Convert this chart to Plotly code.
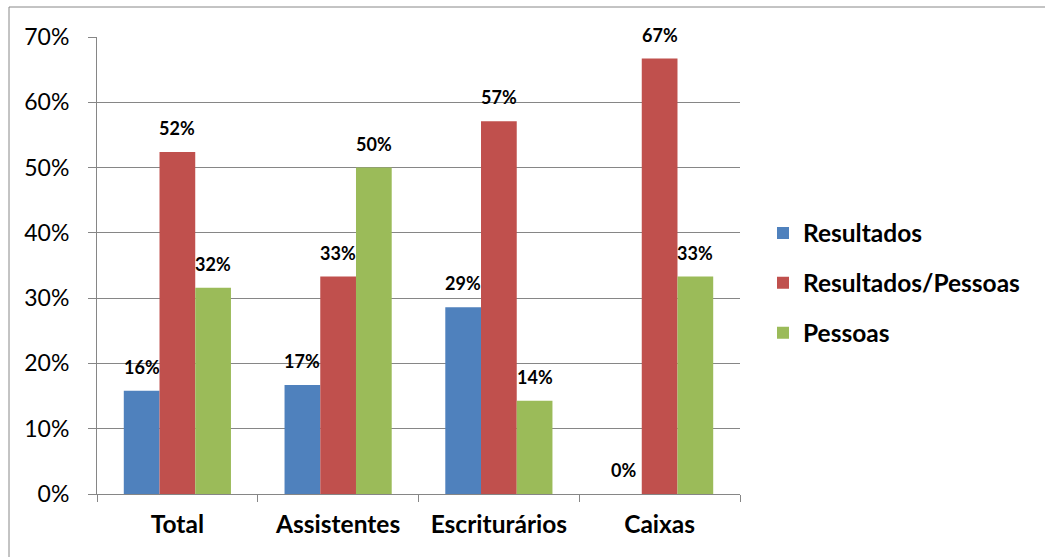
import plotly.graph_objects as go

categories = ["Total", "Assistentes", "Escriturários", "Caixas"]
resultados = [0.158, 0.167, 0.286, 0.0]
resultados_pessoas = [0.524, 0.333, 0.571, 0.667]
pessoas = [0.316, 0.500, 0.143, 0.333]

series = [
    ("Resultados", resultados, "#4F81BD"),
    ("Resultados/Pessoas", resultados_pessoas, "#C0504D"),
    ("Pessoas", pessoas, "#9BBB59"),
]

FONT = "Lato, Calibri, Carlito, sans-serif"
W, H = 1045, 557
L, R, T, B = 97, 305, 37, 63
pw, ph = W - L - R, H - T - B

fig = go.Figure()
bargap = 1.5 / 4.5
bw = (1 - bargap) / 3
annotations = []
for si, (name, vals, col) in enumerate(series):
    fig.add_trace(go.Bar(
        name=name, x=categories, y=vals, marker=dict(color=col, line=dict(width=0)),
        legendgroup=name,
    ))
    for ci, v in enumerate(vals):
        annotations.append(dict(
            x=ci + (si - 1) * bw, y=v, xref="x", yref="y",
            text=f"<b>{round(v * 100):d}%</b>", showarrow=False,
            yshift=24, font=dict(family=FONT, size=18, color="black"),
        ))

grid = "#868686"
fig.update_layout(
    width=W, height=H,
    margin=dict(l=L, r=R, t=T, b=B, pad=0),
    paper_bgcolor="white", plot_bgcolor="white",
    barmode="group", bargap=bargap, bargroupgap=0,
    font=dict(family=FONT, color="black"),
    showlegend=True,
    legend=dict(
        x=(763 - L) / pw, xanchor="left", y=(494 - 283) / ph, yanchor="middle",
        font=dict(family=FONT, size=24.5, color="black", weight="bold"),
        tracegroupgap=15, bgcolor="rgba(0,0,0,0)",
    ),
    xaxis=dict(
        type="category", showgrid=False, showline=True, linecolor=grid, linewidth=1,
        ticks="outside", tickson="boundaries", ticklen=7, tickcolor=grid,
        tickfont=dict(family=FONT, size=24.5, color="black", weight="bold"),
        ticklabelstandoff=9,
    ),
    yaxis=dict(
        range=[0, 0.7], dtick=0.1, tickformat=".0%", showgrid=True, gridcolor=grid,
        gridwidth=1, showline=True, linecolor=grid, linewidth=1, ticks="outside",
        ticklen=8, tickcolor=grid, zeroline=False,
        tickfont=dict(family=FONT, size=23, color="black"),
        ticklabelstandoff=14,
    ),
    annotations=annotations,
    shapes=[dict(
        type="rect", xref="paper", yref="paper",
        x0=(9 - L) / pw, x1=(1100 - L) / pw,
        y0=(494 - 600) / ph, y1=(494 - 7) / ph,
        line=dict(color="#888888", width=1), fillcolor="rgba(0,0,0,0)", layer="below",
    )],
)

fig.write_html("out.html")
